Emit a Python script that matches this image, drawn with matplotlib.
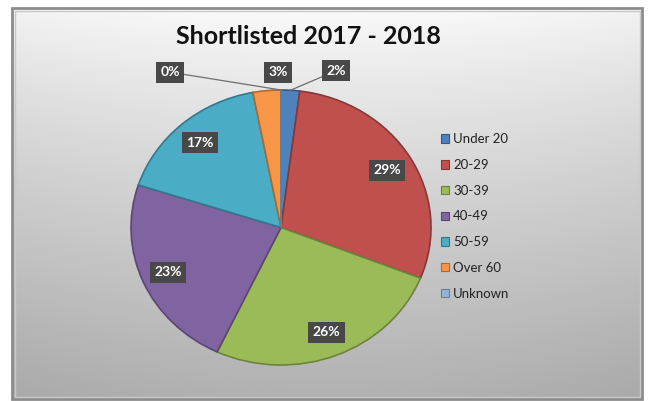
import matplotlib.pyplot as plt
import numpy as np
from matplotlib.patches import Patch, Rectangle
from matplotlib.colors import to_rgb

# 年龄段与占比
groups = ['Under 20', '20-29', '30-39', '40-49', '50-59', 'Over 60', 'Unknown']
shares = [2, 29, 26, 23, 17, 3, 0]
colors = ['#4F81BD', '#C0504D', '#9BBB59', '#8064A2', '#4BACC6', '#F79646', '#95B3D7']
title = 'Shortlisted 2017 - 2018'

plt.rcParams['font.family'] = ['Lato', 'DejaVu Sans']

W, H = 649, 401
fig = plt.figure(figsize=(W / 100, H / 100), dpi=100)
fig.patch.set_facecolor('white')

# 背景：灰色渐变的图表区 + 边框
bg = fig.add_axes([0, 0, 1, 1])
bg.set_xlim(0, W)
bg.set_ylim(H, 0)
bg.axis('off')
ys = np.linspace(0, 1, 200)[:, None]
xs = np.linspace(-1, 1, 300)[None, :]
shade = 0.985 - 0.29 * ys ** 0.85 - 0.03 * xs ** 2
grad = np.dstack([shade, shade, shade])
bg.imshow(grad, extent=(12, 642, 399, 8), aspect='auto', zorder=0)
bg.add_patch(Rectangle((12, 8), 630, 391, fill=False, ec='#8c8c8c', lw=2.0, zorder=1))
bg.add_patch(Rectangle((14.5, 10.5), 625, 386, fill=False, ec='#c8c8c8', lw=1.0, zorder=1))

bg.text(308, 37, title, ha='center', va='center', fontsize=18, fontweight='bold', color='#111111')

# 饼图（略扁的椭圆）
ax = fig.add_axes([131 / W, 36 / H, 300 / W, 275 / H])
edge = [tuple(np.array(to_rgb(c)) * 0.7) for c in colors]
wedges, _ = ax.pie(shares, colors=colors, startangle=90, counterclock=False,
                   wedgeprops=dict(linewidth=1.2))
for w, e in zip(wedges, edge):
    w.set_edgecolor(e)
ax.set_aspect('auto')
ax.set_xlim(-1, 1)
ax.set_ylim(-1, 1)

box = dict(boxstyle='square,pad=0.32', fc='#484848', ec='none')
txt = dict(ha='center', va='center', fontsize=10, fontweight='bold', color='white', bbox=box)

# 小扇区的标签放在饼外
outside = {0: (0.367, 1.14), 5: (-0.02, 1.13), 6: (-0.74, 1.13)}
for i, (w, v) in enumerate(zip(wedges, shares)):
    mid = np.deg2rad((w.theta1 + w.theta2) / 2)
    label = '%d%%' % v
    if i in outside:
        tip = (np.cos(mid), np.sin(mid))
        arrow = None if i == 5 else dict(arrowstyle='-', color='#6e6e6e', lw=0.9,
                                          shrinkA=0, shrinkB=0)
        ax.annotate(label, xy=tip, xytext=outside[i], arrowprops=arrow,
                    annotation_clip=False, **txt)
    else:
        ax.text(0.82 * np.cos(mid), 0.82 * np.sin(mid), label, **txt)

# 图例
handles = [Patch(fc=c, ec=e, lw=0.8) for c, e in zip(colors, edge)]
fig.legend(handles, groups, loc='upper left', bbox_to_anchor=(436 / W, 1 - 128 / H),
           frameon=False, fontsize=9.5, handlelength=0.6, handleheight=0.6,
           handletextpad=0.3, labelspacing=1.04, borderaxespad=0, labelcolor='#222222')

plt.savefig('out.png', dpi=100)
